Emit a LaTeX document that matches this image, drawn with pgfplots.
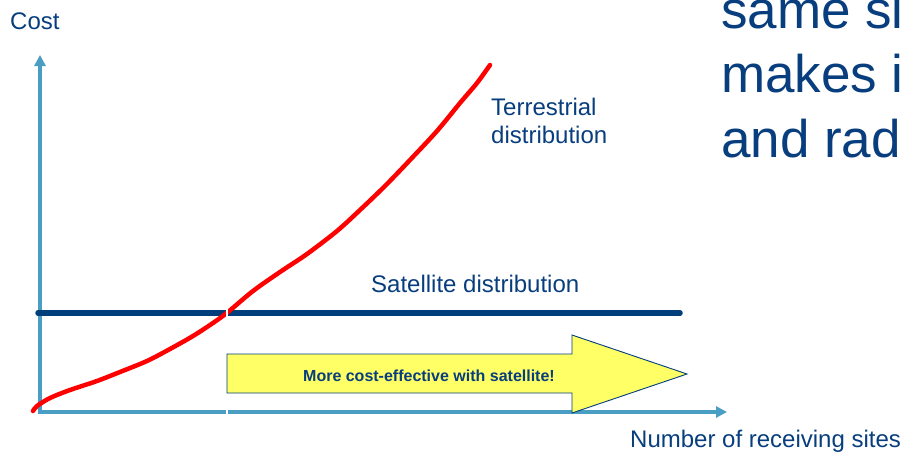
\documentclass[border=0pt]{standalone}
\usepackage{fontspec}
\setmainfont{Liberation Sans}
\usepackage{pgfplots}
\pgfplotsset{compat=1.18}
\usetikzlibrary{arrows.meta}

\definecolor{txtblue}{RGB}{8,62,126}
\definecolor{satblue}{RGB}{0,62,124}
\definecolor{axblue}{RGB}{74,158,196}
\definecolor{arrowyel}{RGB}{255,255,102}

\begin{document}
\begin{tikzpicture}
\begin{axis}[
    name=ax,
    scale only axis,
    width=903pt, height=453pt,
    xmin=0, xmax=903,
    ymin=0, ymax=453,
    y dir=reverse,
    hide axis,
    clip=false,
]
% axes
\addplot[axblue, line width=3.6pt, -{Triangle[width=11pt,length=11pt]}]
    coordinates {(38,412) (727,412)};
\addplot[axblue, line width=3.6pt, -{Triangle[width=11pt,length=11pt]}]
    coordinates {(40,414) (40,55)};

% yellow arrow
\addplot[fill=arrowyel, draw=satblue, line width=0.9pt]
    coordinates {(227,354) (572,354) (572,335) (687,374) (572,413) (572,393) (227,393)} -- cycle;

% satellite cost
\addplot[satblue, line width=5.5pt, line cap=round]
    coordinates {(38,313) (680,313)};

% terrestrial cost
\addplot[red, line width=4.5pt, line cap=round, smooth, tension=0.5]
    coordinates {
    (33,411) (37,406) (50,398) (70,390) (97,381) (120,372) (147,361)
    (170,349) (193,336) (213,323) (228,312) (253,291) (280,272)
    (307,254) (337,231) (360,210) (385,186) (410,160) (437,131)
    (460,103) (477,83) (490,65)
    };

% small white gaps at x=227
\addplot[white, line width=1.5pt] coordinates {(227,309) (227,317)};
\addplot[white, line width=1.5pt] coordinates {(227,409) (227,416)};

\node[txtblue, anchor=base west, inner sep=0pt, font=\fontsize{24}{28}\selectfont] at (10,29) {Cost};
\node[txtblue, anchor=base west, inner sep=0pt, font=\fontsize{24}{28}\selectfont] at (630,447) {Number of receiving sites};
\node[txtblue, anchor=base west, inner sep=0pt, font=\fontsize{24}{28}\selectfont] at (491,115) {Terrestrial};
\node[txtblue, anchor=base west, inner sep=0pt, font=\fontsize{24}{28}\selectfont] at (491,143) {distribution};
\node[txtblue, anchor=base west, inner sep=0pt, font=\fontsize{24}{28}\selectfont] at (371,292) {Satellite distribution};
\node[txtblue, anchor=base, inner sep=0pt, font=\bfseries\fontsize{16}{19}\selectfont] at (429,381) {More cost-effective with satellite!};

\node[txtblue, anchor=base west, inner sep=0pt, font=\fontsize{53}{60}\selectfont] at (721,28) {same si};
\node[txtblue, anchor=base west, inner sep=0pt, font=\fontsize{53}{60}\selectfont] at (721,92) {makes i};
\node[txtblue, anchor=base west, inner sep=0pt, font=\fontsize{53}{60}\selectfont] at (721,157) {and rad};
\end{axis}
\pgfresetboundingbox
\clip (ax.south west) rectangle (ax.north east);
\useasboundingbox (ax.south west) rectangle (ax.north east);
\end{tikzpicture}
\end{document}
